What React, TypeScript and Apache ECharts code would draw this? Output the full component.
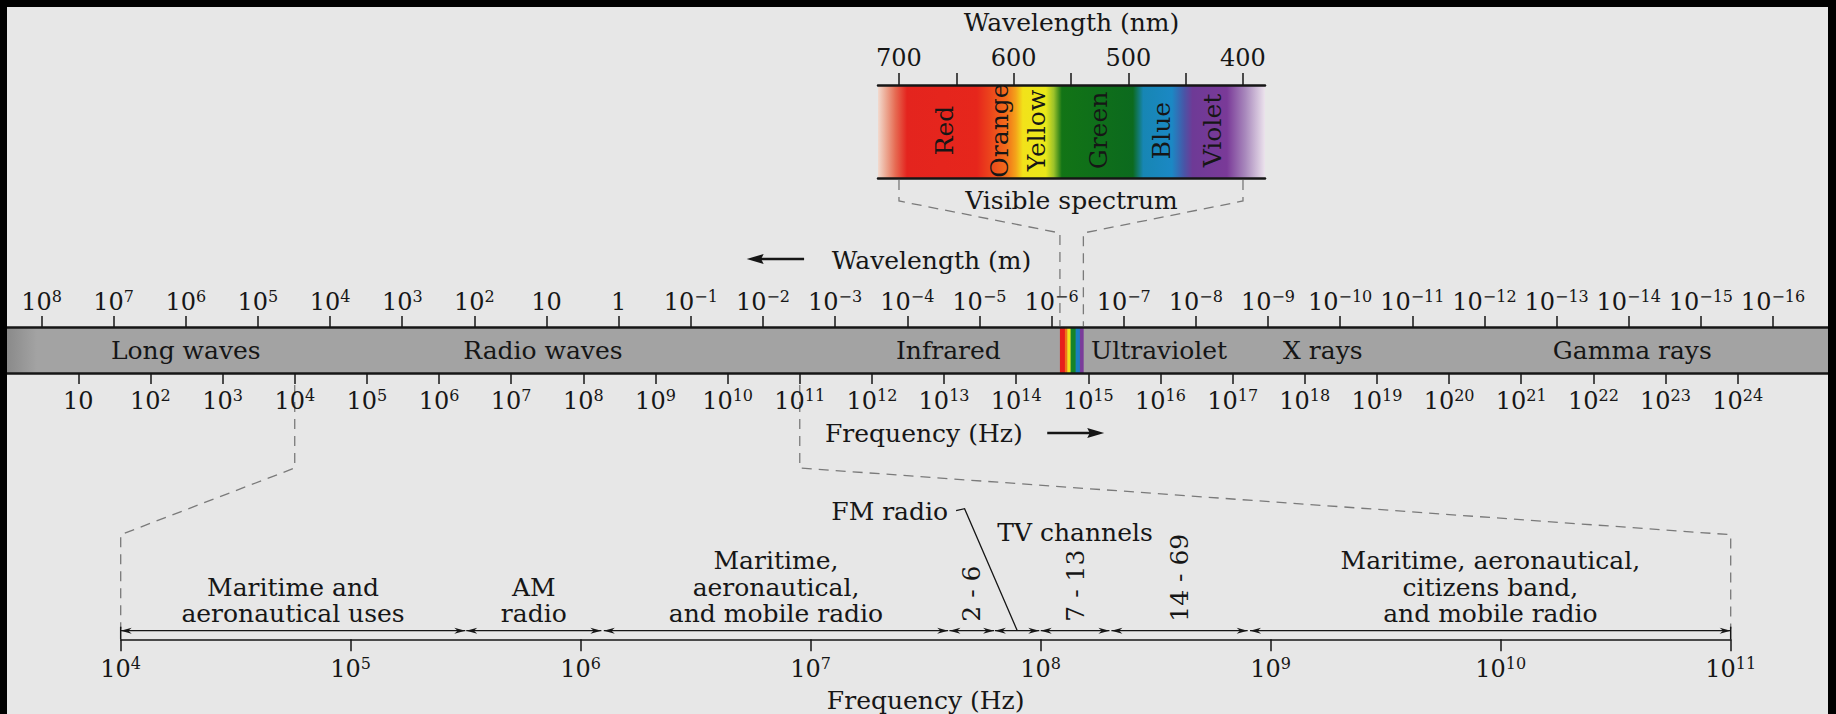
import { useEffect, useRef } from 'react';
import * as echarts from 'echarts';

const W = 1836;
const H = 714;
const FONT = 'DejaVu Serif';
const INK = '#161616';
const DASH = '#7a7a7a';
const BG = '#e7e7e7';
const BAND = '#a3a3a3';
const TXT = 25;

// ---- main band: exponents of frequency (Hz) and wavelength (m)
const freqExponents = [1, 2, 3, 4, 5, 6, 7, 8, 9, 10, 11, 12, 13, 14, 15, 16, 17, 18, 19, 20, 21, 22, 23, 24];
const wavelengthExponents = [8, 7, 6, 5, 4, 3, 2, 1, 0, -1, -2, -3, -4, -5, -6, -7, -8, -9, -10, -11, -12, -13, -14, -15, -16];
const LOG10_C = 8.49; // log10(c) as drawn: wavelength exponent = LOG10_C - frequency exponent
const mainRange = [0.0118, 25.252];

const regionNames = ['Long waves', 'Radio waves', 'Infrared', 'Ultraviolet', 'X rays', 'Gamma rays'];
const regionCenters = [2.49, 7.44, 13.06, 15.98, 18.25, 22.54];

const stripEdges = [14.606, 14.675, 14.709, 14.754, 14.824, 14.883, 14.931];
const stripColors = ['#e6201c', '#ef741a', '#f2e41a', '#15842a', '#1a7ec0', '#7a3c9a'];

// ---- visible spectrum (nm)
const nmRange = [380.8, 718.3];
const nmTicks = [700, 650, 600, 550, 500, 450, 400];
const nmLabels = [700, 600, 500, 400];
const colorNames = ['Red', 'Orange', 'Yellow', 'Green', 'Blue', 'Violet'];
const colorNameNm = [660, 612, 580, 526, 471, 427];
const spectrumStopNm = [718, 711, 703, 693, 632, 620, 606, 598, 592, 572, 565, 558, 496, 487, 462, 451, 444, 414, 398, 381];
const spectrumStopColors = ['#f2d8cc', '#eca690', '#e66a52', '#e4241e', '#e6261c', '#ec461c', '#f26e1a', '#f4a41a', '#f2e21a', '#eae81a', '#9cc22a', '#127416', '#0c6a1e', '#1786b4', '#1b88c4', '#4a54a6', '#6e3a96', '#7a3a98', '#a888bc', '#ebe2ec'];

// ---- radio allocations (Hz)
const radioExponents = [4, 11];
const radioStartHz = [1e4, 3.18e5, 1.26e6, 4.01e7, 6.32e7, 1.0e8, 2.03e8, 8.13e8];
const radioEndHz = [3.15e5, 1.23e6, 3.96e7, 6.27e7, 9.86e7, 1.99e8, 7.94e8, 1e11];
const radioLabels = [
  'Maritime and\naeronautical uses',
  'AM\nradio',
  'Maritime,\naeronautical,\nand mobile radio',
  '2 - 6',
  '',
  '7 - 13',
  '14 - 69',
  'Maritime, aeronautical,\ncitizens band,\nand mobile radio',
];
const radioVertical = [false, false, false, true, false, true, true, false];
const FM_INDEX = 4;
const TV_INDEX = 5;

const supLabel = (e: number) => {
  if (e === 0) return '{b|1}';
  if (e === 1) return '{b|10}';
  const t = e < 0 ? '\u2212' + (-e) : String(e);
  return '{b|10}{s|' + t + '}';
};
const richTick = {
  b: { fontFamily: FONT, fontSize: 24, color: INK, lineHeight: 28 },
  s: { fontFamily: FONT, fontSize: 16, color: INK, lineHeight: 17, verticalAlign: 'top' },
};
const lineStyle = (w: number) => ({ color: INK, width: w });
const textStyle = (size: number) => ({ fontFamily: FONT, fontSize: size, color: INK, lineHeight: 28 });

function buildOption(): any {
  const hidden = { show: false };
  const yAxis = [0, 1, 2].map((g) => ({ type: 'value', gridIndex: g, min: 0, max: 1, show: false }));
  return {
    animation: false,
    backgroundColor: BG,
    grid: [
      { left: 7, right: 8, top: 327, height: 46, outerBoundsMode: 'none', containLabel: false },
      { left: 878, right: 571, top: 85, height: 93, outerBoundsMode: 'none', containLabel: false },
      { left: 120.7, right: 105.3, top: 440, bottom: 74.7, outerBoundsMode: 'none', containLabel: false },
    ],
    xAxis: [
      {
        type: 'value', gridIndex: 0, position: 'bottom', min: mainRange[0], max: mainRange[1], z: 10,
        axisLine: { show: true, onZero: false, lineStyle: lineStyle(2.5) },
        axisTick: { show: true, inside: false, length: 11, customValues: freqExponents, lineStyle: lineStyle(1.5) },
        axisLabel: { show: true, margin: 14, customValues: freqExponents, hideOverlap: false, formatter: (v: number) => supLabel(Math.round(v)), rich: richTick },
        splitLine: hidden,
      },
      {
        type: 'value', gridIndex: 0, position: 'top', inverse: true, min: LOG10_C - mainRange[1], max: LOG10_C - mainRange[0], z: 10,
        axisLine: { show: true, onZero: false, lineStyle: lineStyle(2.5) },
        axisTick: { show: true, inside: false, length: 11, customValues: wavelengthExponents, lineStyle: lineStyle(1.5) },
        axisLabel: { show: true, margin: 11, customValues: wavelengthExponents, hideOverlap: false, formatter: (v: number) => supLabel(Math.round(v)), rich: richTick },
        splitLine: hidden,
      },
      {
        type: 'value', gridIndex: 1, position: 'top', inverse: true, min: nmRange[0], max: nmRange[1], z: 10,
        axisLine: { show: true, onZero: false, lineStyle: lineStyle(2.5) },
        axisTick: { show: true, inside: false, length: 12, customValues: nmTicks, lineStyle: lineStyle(1.5) },
        axisLabel: { show: true, margin: 13, customValues: nmLabels, hideOverlap: false, ...textStyle(24) },
        splitLine: hidden,
        name: 'Wavelength (nm)', nameLocation: 'middle', nameGap: 49, nameMoveOverlap: false, nameTextStyle: textStyle(TXT),
      },
      {
        type: 'value', gridIndex: 1, position: 'bottom', inverse: true, min: nmRange[0], max: nmRange[1], z: 10,
        axisLine: { show: true, onZero: false, lineStyle: lineStyle(2.5) },
        axisTick: hidden, axisLabel: hidden, splitLine: hidden,
        name: 'Visible spectrum', nameLocation: 'middle', nameGap: 8, nameMoveOverlap: false, nameTextStyle: textStyle(TXT),
      },
      {
        type: 'value', gridIndex: 2, position: 'bottom', min: radioExponents[0], max: radioExponents[1], interval: 1, z: 10,
        axisLine: { show: true, onZero: false, lineStyle: lineStyle(1.5) },
        axisTick: { show: true, inside: false, length: 12, lineStyle: lineStyle(1.5) },
        axisLabel: { show: true, margin: 16, hideOverlap: false, formatter: (v: number) => supLabel(Math.round(v)), rich: richTick },
        splitLine: hidden,
        name: 'Frequency (Hz)', nameLocation: 'middle', nameGap: 47, nameMoveOverlap: false, nameTextStyle: textStyle(TXT),
      },
    ],
    yAxis,
    series: [
      {
        type: 'custom', xAxisIndex: 0, yAxisIndex: 0, silent: true, clip: false, z: 2,
        data: [[mainRange[0], mainRange[1]]],
        renderItem: (_p: any, api: any) => {
          const a = api.coord([api.value(0), 1]);
          const b = api.coord([api.value(1), 0]);
          const w = b[0] - a[0];
          return {
            type: 'rect',
            shape: { x: a[0], y: a[1], width: w, height: b[1] - a[1] },
            style: {
              fill: {
                type: 'linear', x: 0, y: 0, x2: 1, y2: 0,
                colorStops: [
                  { offset: 0, color: '#8a8a8a' },
                  { offset: 30 / w, color: BAND },
                  { offset: 1, color: BAND },
                ],
              },
            },
          };
        },
      },
      {
        type: 'custom', xAxisIndex: 0, yAxisIndex: 0, silent: true, clip: false, z: 3,
        data: stripColors.map((_c, i) => [stripEdges[i], stripEdges[i + 1], i]),
        renderItem: (_p: any, api: any) => {
          const a = api.coord([api.value(0), 1]);
          const b = api.coord([api.value(1), 0]);
          return {
            type: 'rect',
            shape: { x: a[0], y: a[1], width: b[0] - a[0] + 0.3, height: b[1] - a[1] },
            style: { fill: stripColors[api.value(2)] },
          };
        },
      },
      {
        type: 'custom', xAxisIndex: 0, yAxisIndex: 0, silent: true, clip: false, z: 4,
        data: regionNames.map((_n, i) => [regionCenters[i], 0.5, i]),
        renderItem: (_p: any, api: any) => {
          const p = api.coord([api.value(0), api.value(1)]);
          return {
            type: 'text', x: p[0], y: p[1],
            style: { text: regionNames[api.value(2)], fontFamily: FONT, fontSize: TXT, fill: INK, align: 'center', verticalAlign: 'middle' },
          };
        },
      },
      {
        type: 'custom', xAxisIndex: 2, yAxisIndex: 1, silent: true, clip: false, z: 2,
        data: [[nmRange[0], nmRange[1]]],
        renderItem: (_p: any, api: any) => {
          const a = api.coord([api.value(1), 1]);
          const b = api.coord([api.value(0), 0]);
          const xl = Math.min(a[0], b[0]);
          const xr = Math.max(a[0], b[0]);
          const w = xr - xl;
          const stops = spectrumStopNm.map((nm, i) => ({
            offset: Math.max(0, Math.min(1, (api.coord([nm, 0])[0] - xl) / w)),
            color: spectrumStopColors[i],
          }));
          return {
            type: 'rect',
            shape: { x: xl, y: Math.min(a[1], b[1]), width: w, height: Math.abs(b[1] - a[1]) },
            style: { fill: { type: 'linear', x: 0, y: 0, x2: 1, y2: 0, colorStops: stops } },
          };
        },
      },
      {
        type: 'custom', xAxisIndex: 2, yAxisIndex: 1, silent: true, clip: false, z: 4,
        data: colorNames.map((_n, i) => [colorNameNm[i], 0.5, i]),
        renderItem: (_p: any, api: any) => {
          const p = api.coord([api.value(0), api.value(1)]);
          return {
            type: 'text', x: p[0], y: p[1] - 1, rotation: Math.PI / 2,
            style: { text: colorNames[api.value(2)], fontFamily: FONT, fontSize: TXT, fill: INK, align: 'center', verticalAlign: 'middle' },
          };
        },
      },
      {
        type: 'custom', xAxisIndex: 4, yAxisIndex: 2, silent: true, clip: false, z: 4,
        data: radioStartHz.map((s, i) => [Math.log10(s), Math.log10(radioEndHz[i]), i]),
        renderItem: (_p: any, api: any) => {
          const i = api.value(2);
          const p0 = api.coord([api.value(0), 0]);
          const x0 = p0[0];
          const x1 = api.coord([api.value(1), 0])[0];
          const y = p0[1] - 8.6;
          const L = 11;
          const hw = 3;
          const children: any[] = [
            { type: 'line', shape: { x1: x0, y1: y, x2: x1, y2: y }, style: { stroke: INK, lineWidth: 1.3 } },
            { type: 'polygon', shape: { points: [[x0, y], [x0 + L, y - hw], [x0 + L * 0.7, y], [x0 + L, y + hw]] }, style: { fill: INK } },
            { type: 'polygon', shape: { points: [[x1, y], [x1 - L, y - hw], [x1 - L * 0.7, y], [x1 - L, y + hw]] }, style: { fill: INK } },
          ];
          const label = radioLabels[i];
          const xc = (x0 + x1) / 2;
          if (label && radioVertical[i]) {
            children.push({
              type: 'text', x: xc, y: y - 9, rotation: Math.PI / 2,
              style: { text: label, fontFamily: FONT, fontSize: TXT, fill: INK, align: 'left', verticalAlign: 'middle' },
            });
          } else if (label) {
            children.push({
              type: 'text', x: xc, y: y - 3.5,
              style: { text: label, fontFamily: FONT, fontSize: TXT, lineHeight: 26.5, fill: INK, align: 'center', verticalAlign: 'bottom' },
            });
          }
          return { type: 'group', children };
        },
      },
    ],
  };
}

function arrow(x1: number, x2: number, y: number, head: number, hw: number, width: number): any[] {
  const dir = x2 > x1 ? 1 : -1;
  return [
    { type: 'line', shape: { x1, y1: y, x2: x2 - dir * head * 0.8, y2: y }, style: { stroke: INK, lineWidth: width } },
    { type: 'polygon', shape: { points: [[x2, y], [x2 - dir * head, y - hw], [x2 - dir * head * 0.85, y], [x2 - dir * head, y + hw]] }, style: { fill: INK } },
  ];
}

function buildGraphics(chart: any): any[] {
  const xMain = (v: number) => chart.convertToPixel({ xAxisIndex: 0 }, v) as number;
  const xNm = (v: number) => chart.convertToPixel({ xAxisIndex: 2 }, v) as number;
  const xRadio = (v: number) => chart.convertToPixel({ xAxisIndex: 4 }, v) as number;
  const bandTop = chart.convertToPixel({ yAxisIndex: 0 }, 1) as number;
  const bandBottom = chart.convertToPixel({ yAxisIndex: 0 }, 0) as number;
  const specBottom = chart.convertToPixel({ yAxisIndex: 1 }, 0) as number;
  const radioAxisY = chart.convertToPixel({ yAxisIndex: 2 }, 0) as number;
  const arrowY = radioAxisY - 8.6;
  const dash = { stroke: DASH, lineWidth: 1.3, lineDash: [10, 7], fill: null };
  const els: any[] = [];

  // visible spectrum -> band
  const stripL = xMain(stripEdges[0]);
  const stripR = xMain(stripEdges[stripEdges.length - 1]);
  const nmL = xNm(nmLabels[0]);
  const nmR = xNm(nmLabels[nmLabels.length - 1]);
  els.push({ type: 'polyline', shape: { points: [[nmL, specBottom + 2], [nmL, specBottom + 23], [stripL, specBottom + 55], [stripL, bandTop - 1]] }, style: dash });
  els.push({ type: 'polyline', shape: { points: [[nmR, specBottom + 2], [nmR, specBottom + 23], [stripR, specBottom + 55], [stripR, bandTop - 1]] }, style: dash });

  // band -> radio detail
  const lo = radioExponents[0];
  const hi = radioExponents[1];
  els.push({ type: 'polyline', shape: { points: [[xMain(lo), bandBottom + 12], [xMain(lo), bandBottom + 95], [xRadio(lo), arrowY - 96], [xRadio(lo), arrowY - 2]] }, style: dash });
  els.push({ type: 'polyline', shape: { points: [[xMain(hi), bandBottom + 12], [xMain(hi), bandBottom + 95], [xRadio(hi), arrowY - 96], [xRadio(hi), arrowY - 2]] }, style: dash });
  els.push({ type: 'line', shape: { x1: xRadio(lo), y1: arrowY - 4, x2: xRadio(lo), y2: radioAxisY }, style: { stroke: INK, lineWidth: 1.5 } });
  els.push({ type: 'line', shape: { x1: xRadio(hi), y1: arrowY - 4, x2: xRadio(hi), y2: radioAxisY }, style: { stroke: INK, lineWidth: 1.5 } });

  // axis titles of the main band with arrows
  els.push({ type: 'text', x: xMain(12.826), y: bandTop - 66.3, style: { text: 'Wavelength (m)', fontFamily: FONT, fontSize: TXT, fill: INK, align: 'center', verticalAlign: 'middle' } });
  els.push(...arrow(xMain(11.06), xMain(10.264), bandTop - 68, 17, 5, 2.6));
  els.push({ type: 'text', x: xMain(12.72), y: bandBottom + 60, style: { text: 'Frequency (Hz)', fontFamily: FONT, fontSize: TXT, fill: INK, align: 'center', verticalAlign: 'middle' } });
  els.push(...arrow(xMain(14.43), xMain(15.22), bandBottom + 60, 17, 5, 2.6));

  // FM radio pointer and TV channels
  const xFM = xRadio((Math.log10(radioStartHz[FM_INDEX]) + Math.log10(radioEndHz[FM_INDEX])) / 2);
  els.push({ type: 'polyline', shape: { points: [[xFM - 61, arrowY - 120], [xFM - 52.5, arrowY - 122], [xFM, arrowY - 0.5]] }, style: { stroke: INK, lineWidth: 1.3, fill: null } });
  els.push({ type: 'text', x: xFM - 69, y: arrowY - 119, style: { text: 'FM radio', fontFamily: FONT, fontSize: TXT, fill: INK, align: 'right', verticalAlign: 'middle' } });
  const xTV = xRadio((Math.log10(radioStartHz[TV_INDEX]) + Math.log10(radioEndHz[TV_INDEX])) / 2);
  els.push({ type: 'text', x: xTV, y: arrowY - 98.7, style: { text: 'TV channels', fontFamily: FONT, fontSize: TXT, fill: INK, align: 'center', verticalAlign: 'middle' } });

  // black frame
  els.push({ type: 'rect', z: 100, shape: { x: 0, y: 0, width: W, height: 7 }, style: { fill: '#000' } });
  els.push({ type: 'rect', z: 100, shape: { x: 0, y: 0, width: 7, height: H }, style: { fill: '#000' } });
  els.push({ type: 'rect', z: 100, shape: { x: W - 8, y: 0, width: 8, height: H }, style: { fill: '#000' } });
  return els;
}

export default function App() {
  const ref = useRef<HTMLDivElement>(null);
  useEffect(() => {
    document.body.style.margin = '0';
    const el = ref.current;
    if (!el) return;
    const chart = echarts.init(el, null, { renderer: 'svg' });
    chart.setOption(buildOption());
    chart.setOption({ graphic: { elements: buildGraphics(chart) } });
    return () => chart.dispose();
  }, []);
  return <div ref={ref} style={{ width: W, height: H, background: BG }} />;
}
